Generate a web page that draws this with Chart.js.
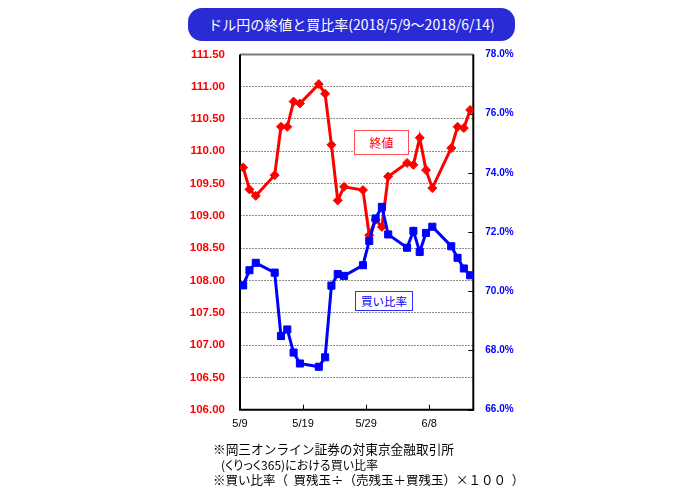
<!DOCTYPE html>
<html><head><meta charset="utf-8">
<script src="https://cdn.jsdelivr.net/npm/chart.js@4/dist/chart.umd.min.js"></script>
<style>
html,body{margin:0;padding:0;background:#fff;}
#wrap{position:relative;width:700px;height:489px;overflow:hidden;font-family:"Noto Sans CJK JP",sans-serif;}
#c{position:absolute;left:0;top:0;}
#title{position:absolute;left:188px;top:8px;width:327px;height:33px;border-radius:14px;background:#2a2ad6;color:#fff;font-size:14px;line-height:33px;text-align:center;white-space:nowrap;}
.tag{position:absolute;background:#fff;text-align:center;white-space:nowrap;}
#tagClose{left:354px;top:130px;width:53px;height:23px;line-height:23px;border:1px solid #ff5050;color:#ff0000;font-size:12px;}
#tagRatio{left:355px;top:291px;width:56px;height:18px;line-height:18px;border:1px solid #3030ff;color:#0000ff;font-size:11.5px;}
.note{position:absolute;color:#000;white-space:pre;line-height:16px;}
</style></head>
<body>
<div id="wrap">
<canvas id="c" width="700" height="489"></canvas>
<div id="title">ドル円の終値と買比率(2018/5/9～2018/6/14)</div>
<div class="tag" id="tagClose">終値</div>
<div class="tag" id="tagRatio">買い比率</div>
<div class="note" style="left:213px;top:441px;font-size:12.7px;">※岡三オンライン証券の対東京金融取引所</div>
<div class="note" style="left:221px;top:457px;font-size:12px;font-feature-settings:'palt';">(くりっく365)における買い比率</div>
<div class="note" style="left:213px;top:472px;font-size:12.5px;">※買い比率（  買残玉÷（売残玉＋買残玉）×１００  ）</div>
</div>
<script>
// ---- data ----
const dates = ['5/9','5/10','5/11','5/14','5/15','5/16','5/17','5/18','5/21','5/22','5/23','5/24','5/25',
               '5/28','5/29','5/30','5/31','6/1','6/4','6/5','6/6','6/7','6/8','6/11','6/12','6/13','6/14'];
const closeValues = [109.75,109.41,109.31,109.63,110.38,110.38,110.77,110.74,111.04,110.89,110.10,109.24,109.45,
                     109.40,108.70,108.94,108.83,109.61,109.82,109.79,110.21,109.71,109.43,110.05,110.38,110.36,110.64];
const buyRatio = [70.20,70.71,70.96,70.63,68.49,68.71,67.93,67.56,67.45,67.77,70.19,70.58,70.52,
                  70.88,71.70,72.46,72.85,71.92,71.47,72.04,71.33,71.97,72.18,71.52,71.13,70.77,70.54];
const xTickLabels = ['5/9','5/19','5/29','6/8'];
const leftTicks = [106,111.5];
const rightTicks = [66,78];

// ---- helpers ----
function dayOffset(label){
  const [m,d] = label.split('/').map(Number);
  return (Date.UTC(2018,m-1,d) - Date.UTC(2018,4,9)) / 86400000;
}
const xs = dates.map(d => dayOffset(d) + 0.5);
const closePts = closeValues.map((v,i) => ({x: xs[i], y: v}));
const ratioPts = buyRatio.map((v,i) => ({x: xs[i], y: v}));

const framePlugin = {
  id: 'frame',
  beforeDatasetsDraw(chart){
    const {ctx, chartArea: a, scales} = chart;
    ctx.save();
    ctx.strokeStyle = '#000'; ctx.lineWidth = 1;
    scales.y2.ticks.forEach(t => {
      const py = Math.round(scales.y2.getPixelForValue(t.value)) + 0.5;
      ctx.beginPath(); ctx.moveTo(a.right - 5, py); ctx.lineTo(a.right, py); ctx.stroke();
    });
    scales.x.ticks.forEach(t => {
      const px = Math.round(scales.x.getPixelForValue(t.value)) + 0.5;
      ctx.beginPath(); ctx.moveTo(px, a.bottom - 5); ctx.lineTo(px, a.bottom); ctx.stroke();
    });
    ctx.lineWidth = 2;
    ctx.strokeStyle = '#7a7a7a';
    ctx.beginPath(); ctx.moveTo(a.left, a.top); ctx.lineTo(a.right, a.top); ctx.stroke();
    ctx.strokeStyle = '#000';
    ctx.beginPath(); ctx.moveTo(a.right, a.top); ctx.lineTo(a.right, a.bottom); ctx.lineTo(a.left, a.bottom); ctx.lineTo(a.left, a.top); ctx.stroke();
    ctx.restore();
  }
};

new Chart(document.getElementById('c'), {
  type: 'line',
  data: {
    datasets: [
      { label: '終値', data: closePts, yAxisID: 'y', order: 2,
        borderColor: '#ff0000', backgroundColor: '#ff0000', borderWidth: 3,
        pointStyle: 'rectRot', pointRadius: 4.5, pointBorderWidth: 1, tension: 0 },
      { label: '買い比率', data: ratioPts, yAxisID: 'y2', order: 1,
        borderColor: '#0000ff', backgroundColor: '#0000ff', borderWidth: 3,
        pointStyle: 'rect', pointRadius: 5, pointBorderWidth: 1, tension: 0 }
    ]
  },
  options: {
    responsive: false, animation: false,
    layout: { padding: { top: 54.4, left: 0, right: 0, bottom: 0 } },
    plugins: { legend: { display: false }, tooltip: { enabled: false }, title: { display: false } },
    scales: {
      x: {
        type: 'linear', position: 'bottom', min: 0, max: 37,
        afterBuildTicks: s => { s.ticks = xTickLabels.map(l => ({ value: dayOffset(l) })); },
        afterFit: s => { s.height = 489 - 409.7; },
        grid: { display: false, drawTicks: false },
        border: { display: false },
        ticks: {
          color: '#000', font: { family: 'Liberation Sans', size: 11 }, padding: 8, maxRotation: 0,
          callback: v => { const i = xTickLabels.findIndex(l => dayOffset(l) === v); return i >= 0 ? xTickLabels[i] : ''; }
        }
      },
      y: {
        position: 'left', min: leftTicks[0], max: leftTicks[1],
        afterFit: s => { s.width = 240; },
        grid: { color: '#8c8c8c', lineWidth: 1, drawTicks: false },
        border: { display: false, dash: [2, 1] },
        ticks: { stepSize: 0.5, color: '#ff0000', padding: 15,
                 font: { family: 'Liberation Sans', size: 11.5, weight: 'bold' },
                 callback: v => Number(v).toFixed(2) }
      },
      y2: {
        position: 'right', min: rightTicks[0], max: rightTicks[1],
        afterFit: s => { s.width = 700 - 473.3; },
        grid: { display: false, drawTicks: false },
        border: { display: false },
        ticks: { stepSize: 2, color: '#0000ff', padding: 12,
                 font: { family: 'Liberation Sans', size: 10, weight: 'bold' },
                 callback: v => Number(v).toFixed(1) + '%' }
      }
    }
  },
  plugins: [framePlugin]
});
</script>
</body></html>
